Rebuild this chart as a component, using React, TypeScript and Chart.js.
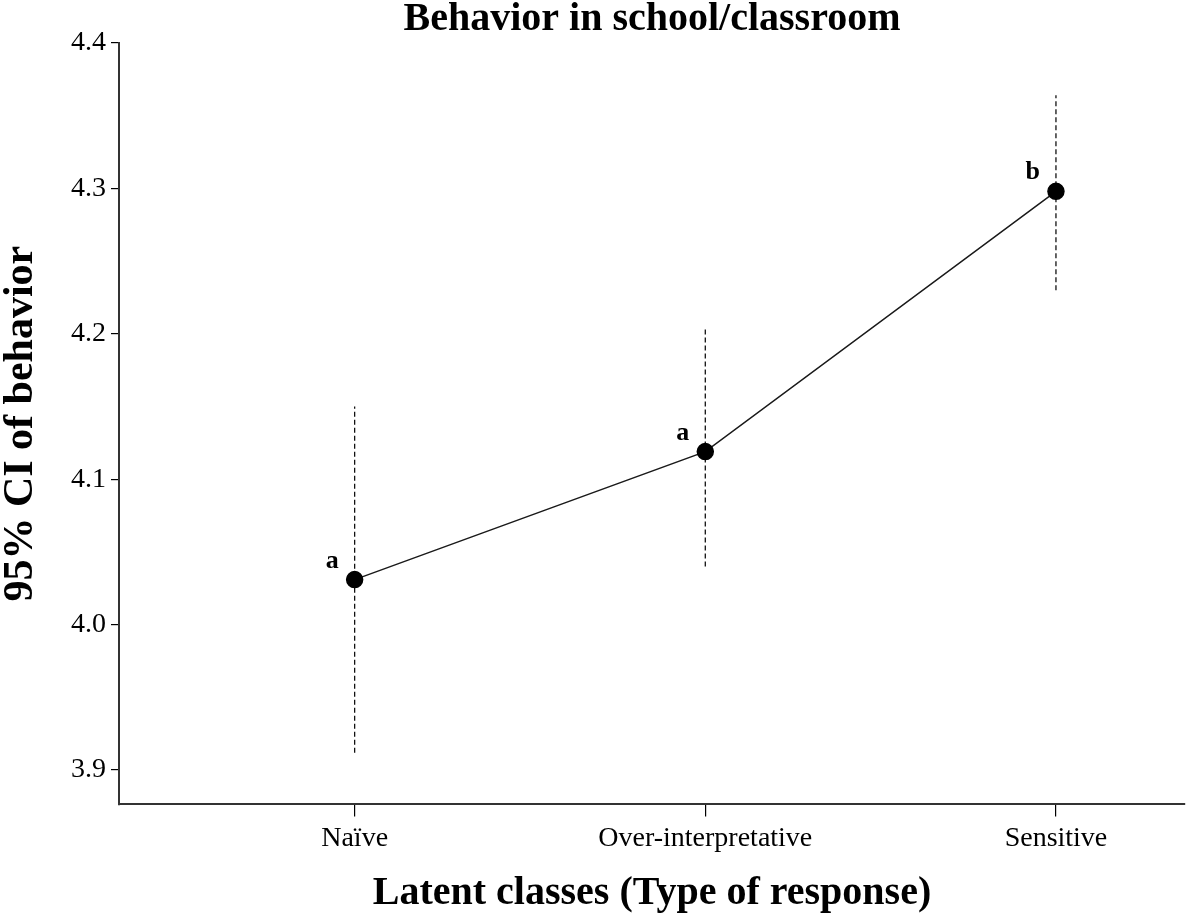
import { useEffect, useRef } from 'react';
import Chart from 'chart.js/auto';

const categories = ['Naïve', 'Over-interpretative', 'Sensitive'];
const means = [4.031, 4.119, 4.298];
const ciLower = [3.912, 4.04, 4.23];
const ciUpper = [4.15, 4.204, 4.364];
const groupLetters = ['a', 'a', 'b'];
const yTicks = [3.9, 4.0, 4.1, 4.2, 4.3, 4.4];

const serif = "'Liberation Serif', 'Times New Roman', serif";

// draws the a/b letters above-left of each mean point
const letterPlugin = {
  id: 'groupLetters',
  afterDatasetsDraw(chart: any) {
    const meta = chart.getDatasetMeta(0);
    const ctx = chart.ctx;
    ctx.save();
    ctx.font = `bold 26px ${serif}`;
    ctx.fillStyle = '#000';
    ctx.textAlign = 'right';
    ctx.textBaseline = 'alphabetic';
    meta.data.forEach((pt: any, i: number) => {
      ctx.fillText(groupLetters[i], pt.x - 16, pt.y - 12);
    });
    ctx.restore();
  },
};

const App = () => {
  const chartRef = useRef<HTMLCanvasElement>(null);

  useEffect(() => {
    if (!chartRef.current) return;
    document.body.style.margin = '0';

    const ciSets = categories.map((_, i) => ({
      data: [
        { x: i, y: ciLower[i] },
        { x: i, y: ciUpper[i] },
      ],
      borderColor: '#111',
      borderWidth: 1.3,
      borderDash: [5, 3],
      pointRadius: 0,
      order: 2,
    }));

    const chart = new Chart(chartRef.current, {
      type: 'line',
      data: {
        datasets: [
          {
            data: means.map((m, i) => ({ x: i, y: m })),
            borderColor: '#1a1a1a',
            borderWidth: 1.5,
            pointRadius: 8,
            pointBackgroundColor: '#000',
            pointBorderColor: '#000',
            order: 0,
          },
          ...ciSets,
        ],
      },
      options: {
        responsive: true,
        maintainAspectRatio: false,
        animation: false,
        layout: { padding: { left: 0, right: 16, top: 0, bottom: 0 } },
        plugins: {
          legend: { display: false },
          tooltip: { enabled: false },
          title: {
            display: true,
            fullSize: false,
            text: 'Behavior in school/classroom',
            color: '#000',
            font: { family: serif, size: 40, weight: 'bold', lineHeight: 0.8 },
            padding: { top: 4, bottom: 7 },
          },
        },
        scales: {
          x: {
            type: 'linear',
            min: -0.672,
            max: 2.368,
            afterBuildTicks: (axis: any) => {
              axis.ticks = categories.map((_, i) => ({ value: i }));
            },
            ticks: {
              color: '#000',
              font: { family: serif, size: 28 },
              padding: 5,
              callback: (v: any) => categories[v as number] ?? '',
            },
            grid: {
              drawOnChartArea: false,
              drawTicks: true,
              tickLength: 12,
              color: '#000',
              lineWidth: 1.2,
            },
            border: { display: true, color: '#333', width: 2 },
            title: {
              display: true,
              text: 'Latent classes (Type of response)',
              color: '#000',
              font: { family: serif, size: 40, weight: 'bold', lineHeight: 1.2 },
              padding: { top: 10, bottom: 0 },
            },
          },
          y: {
            min: 3.8764,
            max: 4.4,
            afterBuildTicks: (axis: any) => {
              axis.ticks = yTicks.map((v) => ({ value: v }));
            },
            ticks: {
              color: '#000',
              font: { family: serif, size: 28 },
              padding: 5,
              callback: (v: any) => Number(v).toFixed(1),
            },
            grid: {
              drawOnChartArea: false,
              drawTicks: true,
              tickLength: 8,
              color: '#000',
              lineWidth: 1.2,
            },
            border: { display: true, color: '#333', width: 2 },
            title: {
              display: true,
              text: '95% CI of behavior',
              color: '#000',
              font: { family: serif, size: 42, weight: 'bold', lineHeight: 1.0 },
              padding: { top: 0, bottom: 24 },
            },
          },
        },
      },
      plugins: [letterPlugin],
    });

    return () => {
      chart.destroy();
    };
  }, []);

  return (
    <div style={{ position: 'absolute', left: 0, top: 0, width: 1201, height: 918, background: '#fff' }}>
      <canvas ref={chartRef} />
    </div>
  );
};

export default App;
